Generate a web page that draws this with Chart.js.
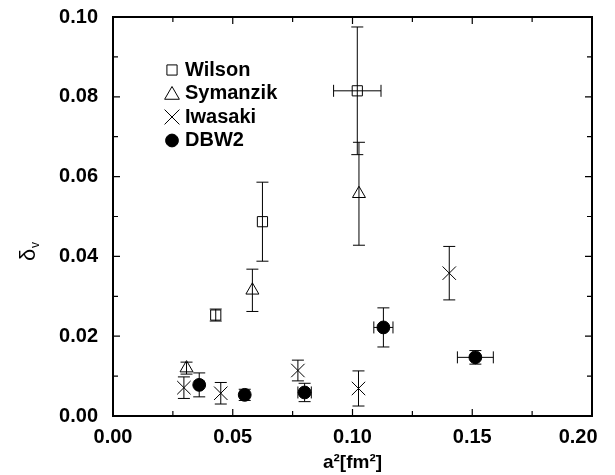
<!DOCTYPE html>
<html><head><meta charset="utf-8">
<script src="https://cdn.jsdelivr.net/npm/chart.js@4"></script>
<style>html,body{margin:0;padding:0;background:#fff}canvas{display:block}</style>
</head><body>
<canvas id="c" width="615" height="475"></canvas>
<script>
const seriesNames = ['Wilson', 'Symanzik', 'Iwasaki', 'DBW2'];

const wilsonX    = [0.0429, 0.0624, 0.1020];
const wilsonY    = [0.0253, 0.0487, 0.0815];
const wilsonXErr = [0, 0, 0.0099];
const wilsonYErr = [0.0015, 0.0099, 0.0160];

const symanzikX    = [0.0307, 0.0582, 0.1027];
const symanzikY    = [0.0120, 0.0315, 0.0557];
const symanzikXErr = [0, 0, 0];
const symanzikYErr = [0.0015, 0.0053, 0.0129];

const iwasakiX    = [0.0296, 0.0450, 0.0772, 0.1025, 0.1404];
const iwasakiY    = [0.0071, 0.0057, 0.0114, 0.0069, 0.0358];
const iwasakiXErr = [0, 0, 0, 0, 0];
const iwasakiYErr = [0.0027, 0.0027, 0.0026, 0.0044, 0.0067];

const dbw2X    = [0.0360, 0.0550, 0.0800, 0.1129, 0.1513];
const dbw2Y    = [0.0078, 0.0053, 0.0059, 0.0222, 0.0147];
const dbw2XErr = [0, 0, 0.0028, 0.0040, 0.0075];
const dbw2YErr = [0.0030, 0.0014, 0.0023, 0.0049, 0.0017];

const xTicks = [0, 0.05, 0.10, 0.15, 0.20];
const xTickLabels = ['0.00', '0.05', '0.10', '0.15', '0.20     '];
const yTicks = [0, 0.02, 0.04, 0.06, 0.08, 0.10];
const yTickLabels = ['0.00', '0.02', '0.04', '0.06', '0.08', '0.10'];
const xMinorTicks = [0.025, 0.075, 0.125, 0.175];
const yMinorTicks = [0.01, 0.03, 0.05, 0.07, 0.09];
const xTitle = 'a²[fm²]';
const yTitleMain = 'δ';
const yTitleSub = 'v';

const FONT = '"Liberation Sans", Arial, Helvetica, sans-serif';

function pts(xs, ys) { return xs.map((x, i) => ({x: x, y: ys[i]})); }

const styles = [
  {pointStyle: 'rect', radius: 7.2, fill: 'rgba(0,0,0,0)'},
  {pointStyle: 'triangle', radius: 7.5, fill: 'rgba(0,0,0,0)'},
  {pointStyle: 'crossRot', radius: 9.5, fill: 'rgba(0,0,0,0)'},
  {pointStyle: 'circle', radius: 6.4, fill: '#000'}
];
const sx = [wilsonX, symanzikX, iwasakiX, dbw2X];
const sy = [wilsonY, symanzikY, iwasakiY, dbw2Y];
const sxe = [wilsonXErr, symanzikXErr, iwasakiXErr, dbw2XErr];
const sye = [wilsonYErr, symanzikYErr, iwasakiYErr, dbw2YErr];

const datasets = seriesNames.map((name, k) => ({
  label: name,
  data: pts(sx[k], sy[k]),
  xErr: sxe[k],
  yErr: sye[k],
  pointStyle: styles[k].pointStyle,
  pointRadius: styles[k].radius,
  pointHoverRadius: styles[k].radius,
  pointBorderColor: '#000',
  pointBackgroundColor: styles[k].fill,
  pointBorderWidth: 1,
  showLine: false
}));

const CAP = 6;
const errorBars = {
  id: 'errorBars',
  beforeDatasetsDraw(chart) {
    const ctx = chart.ctx, xs = chart.scales.x, ys = chart.scales.y;
    ctx.save();
    ctx.strokeStyle = '#000';
    ctx.lineWidth = 1;
    chart.data.datasets.forEach(ds => {
      ds.data.forEach((p, i) => {
        const px = xs.getPixelForValue(p.x), py = ys.getPixelForValue(p.y);
        const ye = ds.yErr[i], xe = ds.xErr[i];
        ctx.beginPath();
        if (ye > 0) {
          const y1 = ys.getPixelForValue(p.y + ye), y2 = ys.getPixelForValue(p.y - ye);
          ctx.moveTo(px, y1); ctx.lineTo(px, y2);
          ctx.moveTo(px - CAP, y1); ctx.lineTo(px + CAP, y1);
          ctx.moveTo(px - CAP, y2); ctx.lineTo(px + CAP, y2);
        }
        if (xe > 0) {
          const x1 = xs.getPixelForValue(p.x - xe), x2 = xs.getPixelForValue(p.x + xe);
          ctx.moveTo(x1, py); ctx.lineTo(x2, py);
          ctx.moveTo(x1, py - CAP); ctx.lineTo(x1, py + CAP);
          ctx.moveTo(x2, py - CAP); ctx.lineTo(x2, py + CAP);
        }
        ctx.stroke();
      });
    });
    ctx.restore();
  }
};

function drawMarker(ctx, style, r, x, y, fill) {
  ctx.beginPath();
  if (style === 'rect') {
    const s = r * Math.SQRT1_2;
    ctx.rect(x - s, y - s, 2 * s, 2 * s);
  } else if (style === 'triangle') {
    for (let j = 0; j < 3; j++) {
      const a = j * 2 * Math.PI / 3;
      const vx = x + Math.sin(a) * r, vy = y - Math.cos(a) * r;
      if (j === 0) ctx.moveTo(vx, vy); else ctx.lineTo(vx, vy);
    }
    ctx.closePath();
  } else if (style === 'crossRot') {
    const d = r * Math.SQRT1_2;
    ctx.moveTo(x - d, y - d); ctx.lineTo(x + d, y + d);
    ctx.moveTo(x - d, y + d); ctx.lineTo(x + d, y - d);
  } else {
    ctx.arc(x, y, r, 0, 2 * Math.PI);
  }
  if (fill && style === 'circle') { ctx.fillStyle = '#000'; ctx.fill(); }
  ctx.stroke();
}

const frame = {
  id: 'frame',
  afterDraw(chart) {
    const ctx = chart.ctx, a = chart.chartArea, xs = chart.scales.x, ys = chart.scales.y;
    ctx.save();
    ctx.strokeStyle = '#000';
    ctx.lineWidth = 1.2;
    ctx.beginPath();
    const tickX = (vals, len) => vals.forEach(v => {
      const p = xs.getPixelForValue(v);
      ctx.moveTo(p, a.bottom); ctx.lineTo(p, a.bottom - len);
      ctx.moveTo(p, a.top); ctx.lineTo(p, a.top + len);
    });
    const tickY = (vals, len) => vals.forEach(v => {
      const p = ys.getPixelForValue(v);
      ctx.moveTo(a.left, p); ctx.lineTo(a.left + len, p);
      ctx.moveTo(a.right, p); ctx.lineTo(a.right - len, p);
    });
    tickX(xTicks, 7); tickX(xMinorTicks, 5);
    tickY(yTicks, 7); tickY(yMinorTicks, 5);
    ctx.stroke();
    ctx.lineWidth = 2;
    ctx.strokeRect(a.left, a.top, a.right - a.left, a.bottom - a.top);
    ctx.fillStyle = '#000';
    ctx.translate(28, 252);
    ctx.rotate(-Math.PI / 2);
    ctx.textBaseline = 'alphabetic';
    ctx.textAlign = 'left';
    ctx.font = '22px ' + FONT;
    const w = ctx.measureText(yTitleMain).width;
    ctx.fillText(yTitleMain, -w / 2 - 3, 7);
    ctx.font = '12px ' + FONT;
    ctx.fillText(yTitleSub, w / 2 - 2, 11);
    ctx.restore();

    ctx.save();
    ctx.strokeStyle = '#000';
    ctx.fillStyle = '#000';
    ctx.lineWidth = 1;
    const rows = [70, 93.5, 117, 140.5];
    const legR = [7.2, 8.5, 10.5, 6.4];
    chart.data.datasets.forEach((ds, k) => {
      drawMarker(ctx, styles[k].pointStyle, legR[k], 172, rows[k] + (k === 1 ? 1.5 : 0), k === 3);
      ctx.font = 'bold 20px ' + FONT;
      ctx.textBaseline = 'middle';
      ctx.textAlign = 'left';
      ctx.fillStyle = '#000';
      ctx.fillText(ds.label, 185, rows[k]);
    });
    ctx.restore();
  }
};

new Chart(document.getElementById('c'), {
  type: 'scatter',
  data: {datasets: datasets},
  options: {
    responsive: false,
    animation: false,
    events: [],
    layout: {padding: {top: 17, right: 23, left: 0, bottom: 0}},
    plugins: {legend: {display: false}, tooltip: {enabled: false}},
    scales: {
      x: {
        type: 'linear', min: 0, max: 0.2,
        afterBuildTicks: s => { s.ticks = xTicks.map(v => ({value: v})); },
        afterFit: s => { s.height = 59; s.paddingLeft = 0; s.paddingRight = 0; },
        grid: {display: false, drawTicks: false},
        border: {display: false},
        ticks: {
          color: '#000', padding: 9, maxRotation: 0, autoSkip: false,
          font: {family: FONT, size: 20, weight: 'bold'},
          callback: (v, i) => xTickLabels[i]
        },
        title: {
          display: true, text: xTitle, color: '#000',
          font: {family: FONT, size: 19, weight: 'bold'},
          padding: {top: 0, bottom: 1}
        }
      },
      y: {
        type: 'linear', min: 0, max: 0.1,
        afterBuildTicks: s => { s.ticks = yTicks.map(v => ({value: v})); },
        afterFit: s => { s.width = 113; s.paddingTop = 0; s.paddingBottom = 0; },
        grid: {display: false, drawTicks: false},
        border: {display: false},
        ticks: {
          color: '#000', padding: 15, autoSkip: false,
          font: {family: FONT, size: 20, weight: 'bold'},
          callback: (v, i) => yTickLabels[i]
        }
      }
    }
  },
  plugins: [errorBars, frame]
});
</script>
</body></html>
